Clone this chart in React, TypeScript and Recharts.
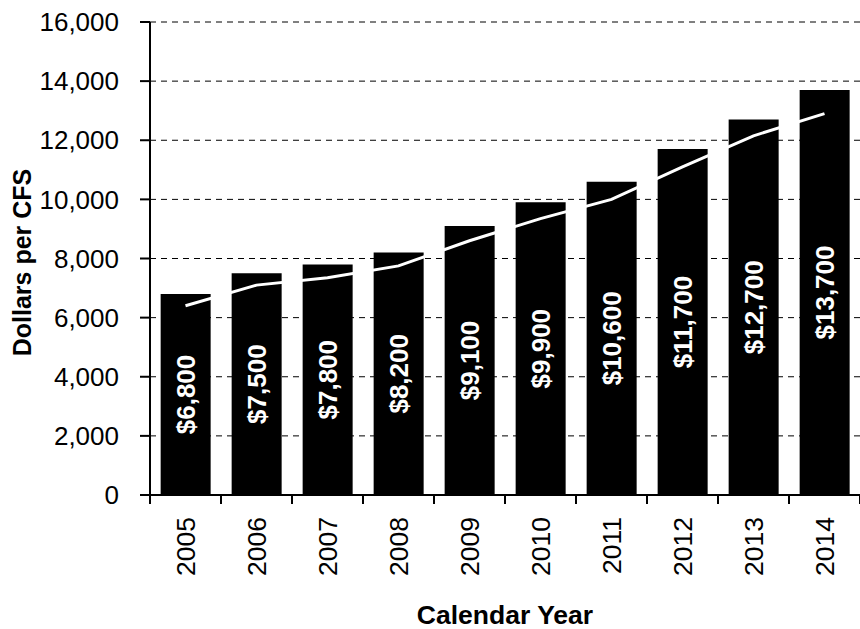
import {
  Bar,
  CartesianGrid,
  ComposedChart,
  Label,
  LabelList,
  Line,
  XAxis,
  YAxis,
} from 'recharts';

const years = ['2005', '2006', '2007', '2008', '2009', '2010', '2011', '2012', '2013', '2014'];
const dollarsPerCfs = [6800, 7500, 7800, 8200, 9100, 9900, 10600, 11700, 12700, 13700];
const trend = [6400, 7100, 7350, 7750, 8600, 9350, 10000, 11100, 12150, 12900];
const yTicks = [0, 2000, 4000, 6000, 8000, 10000, 12000, 14000, 16000];

const data = years.map((year, i) => ({ year, value: dollarsPerCfs[i], trend: trend[i] }));

const W = 860;
const H = 629;
const PLOT_LEFT = 150;
const PLOT_TOP = 22;
const PLOT_BOTTOM = 495;
const BAND = (W - PLOT_LEFT) / years.length;
const FONT = '"Liberation Sans", Arial, sans-serif';

function YearTick(props: any) {
  const { x, payload, index } = props;
  const left = x - BAND / 2;
  return (
    <g>
      <line x1={left} y1={PLOT_BOTTOM} x2={left} y2={PLOT_BOTTOM + 9} stroke="#000" strokeWidth={2} />
      {index === years.length - 1 && (
        <line x1={x + BAND / 2} y1={PLOT_BOTTOM} x2={x + BAND / 2} y2={PLOT_BOTTOM + 9} stroke="#000" strokeWidth={2} />
      )}
      <text
        x={x}
        y={PLOT_BOTTOM + 22}
        transform={`rotate(-90, ${x}, ${PLOT_BOTTOM + 22})`}
        textAnchor="end"
        dy="0.36em"
        fontSize={26.5}
        fontFamily={FONT}
        fill="#000"
      >
        {payload.value}
      </text>
    </g>
  );
}

function BarValue(props: any) {
  const { x, y, width, height, value } = props;
  const cx = x + width / 2;
  const cy = y + height / 2;
  return (
    <text
      x={cx}
      y={cy}
      transform={`rotate(-90, ${cx}, ${cy})`}
      textAnchor="middle"
      dy="0.36em"
      fontSize={26}
      fontWeight="bold"
      fontFamily={FONT}
      fill="#fff"
    >
      {'$' + Number(value).toLocaleString('en-US')}
    </text>
  );
}

export default function App() {
  return (
    <div style={{ position: 'absolute', left: 0, top: 0, background: '#fff' }}>
      <ComposedChart
        width={W}
        height={H}
        data={data}
        margin={{ top: PLOT_TOP, right: 0, bottom: 0, left: 0 }}
        barCategoryGap="15%"
      >
        <CartesianGrid vertical={false} stroke="#000" strokeDasharray="6 5" />
        <XAxis
          dataKey="year"
          height={H - PLOT_BOTTOM}
          axisLine={{ stroke: '#000', strokeWidth: 2 }}
          tickLine={false}
          tick={<YearTick />}
          interval={0}
        >
          <Label
            content={(p: any) => (
              <text
                x={p.viewBox.x + p.viewBox.width / 2}
                y={PLOT_BOTTOM + 129}
                textAnchor="middle"
                fontSize={26.5}
                fontWeight="bold"
                fontFamily={FONT}
                fill="#000"
              >
                Calendar Year
              </text>
            )}
          />
        </XAxis>
        <YAxis
          width={PLOT_LEFT}
          domain={[0, 16000]}
          ticks={yTicks}
          interval={0}
          axisLine={{ stroke: '#000', strokeWidth: 2 }}
          tickLine={{ stroke: '#000', strokeWidth: 2 }}
          tickSize={10}
          tickMargin={21}
          tick={{ fontSize: 26, fontFamily: FONT, fill: '#000' }}
          tickFormatter={(v: number) => v.toLocaleString('en-US')}
        >
          <Label
            content={(p: any) => {
              const cx = 22;
              const cy = p.viewBox.y + p.viewBox.height / 2 + 4;
              return (
                <text
                  x={cx}
                  y={cy}
                  transform={`rotate(-90, ${cx}, ${cy})`}
                  textAnchor="middle"
                  dy="0.36em"
                  fontSize={25}
                  fontWeight="bold"
                  fontFamily={FONT}
                  fill="#000"
                >
                  Dollars per CFS
                </text>
              );
            }}
          />
        </YAxis>
        <Bar dataKey="value" fill="#000" isAnimationActive={false}>
          <LabelList dataKey="value" content={<BarValue />} />
        </Bar>
        <Line
          type="linear"
          dataKey="trend"
          stroke="#fff"
          strokeWidth={3}
          dot={false}
          activeDot={false}
          isAnimationActive={false}
        />
      </ComposedChart>
    </div>
  );
}
